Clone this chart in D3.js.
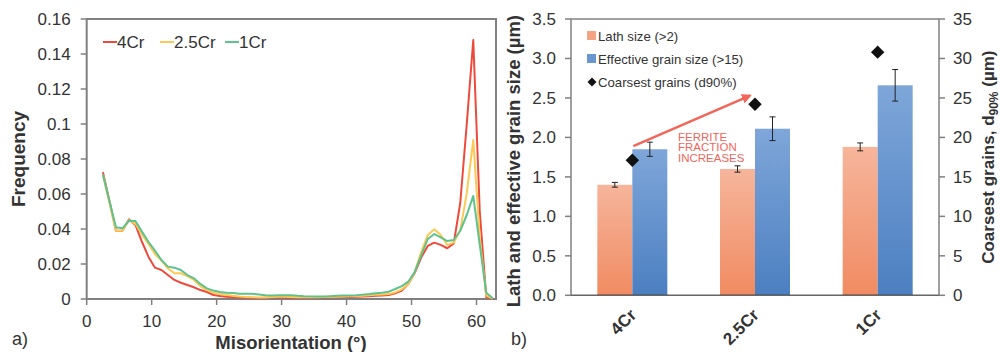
<!DOCTYPE html>
<html>
<head>
<meta charset="utf-8">
<script src="https://cdn.jsdelivr.net/npm/d3@7"></script>
<style>
  body { margin: 0; background: #fff; }
  svg { display: block; font-family: "Liberation Sans", Arial, sans-serif; }
</style>
</head>
<body>
<svg id="chart" width="1000" height="352"></svg>
<script>
// ---- data: panel a) misorientation distribution ----
const angles = [2.5, 3.5, 4.5, 5.5, 6.5, 7.5, 8.5, 9.5, 10.5, 11.5, 12.5, 13.5, 14.5, 15.5, 16.5, 17.5, 18.5, 19.5, 20.5, 21.5,
  22.5, 23.5, 24.5, 25.5, 26.5, 27.5, 28.5, 29.5, 30.5, 31.5, 32.5, 33.5, 34.5, 35.5, 36.5, 37.5, 38.5, 39.5, 40.5, 41.5,
  42.5, 43.5, 44.5, 45.5, 46.5, 47.5, 48.5, 49.5, 50.5, 51.5, 52.5, 53.5, 54.5, 55.5, 56.5, 57.5, 58.5, 59.5, 60.5, 61.5, 62.5];

const freq4Cr = [0.0725, 0.056, 0.039, 0.039, 0.0455, 0.0423, 0.0327, 0.0242, 0.0179, 0.0166, 0.0137, 0.0109, 0.0093, 0.008, 0.0067, 0.0051, 0.004, 0.0023, 0.0017, 0.0013,
  0.001, 0.0008, 0.0007, 0.0006, 0.0006, 0.0007, 0.0008, 0.0008, 0.0008, 0.0007, 0.0007, 0.0007, 0.0008, 0.0009, 0.0009, 0.0009, 0.001, 0.0011, 0.0012, 0.0013,
  0.0014, 0.0016, 0.0018, 0.002, 0.0023, 0.0032, 0.0048, 0.0086, 0.015, 0.0238, 0.0303, 0.0322, 0.0309, 0.029, 0.0318, 0.055, 0.1, 0.148, 0.05, 0.001, 0.0003];

const freq25Cr = [0.071, 0.055, 0.039, 0.039, 0.045, 0.043, 0.037, 0.0314, 0.0257, 0.0219, 0.0175, 0.0147, 0.0147, 0.0131, 0.0109, 0.0074, 0.0051, 0.0036, 0.0028, 0.0023,
  0.0018, 0.0014, 0.0012, 0.001, 0.0009, 0.0009, 0.0011, 0.0013, 0.0013, 0.0012, 0.001, 0.001, 0.001, 0.001, 0.0011, 0.0012, 0.0013, 0.0014, 0.0016, 0.0017,
  0.0019, 0.0021, 0.0024, 0.0026, 0.0029, 0.0038, 0.0055, 0.0086, 0.0156, 0.027, 0.0366, 0.0398, 0.0366, 0.0309, 0.0322, 0.0394, 0.0604, 0.0909, 0.035, 0.002, 0.0003];

const freq1Cr = [0.071, 0.056, 0.041, 0.0404, 0.0447, 0.0446, 0.0385, 0.0327, 0.0276, 0.0223, 0.0185, 0.0179, 0.0166, 0.0137, 0.0118, 0.0086, 0.0061, 0.0048, 0.004, 0.0036,
  0.0034, 0.003, 0.003, 0.003, 0.0026, 0.0022, 0.002, 0.0022, 0.0022, 0.0021, 0.0018, 0.0016, 0.0015, 0.0014, 0.0014, 0.0016, 0.0018, 0.002, 0.002, 0.0022,
  0.0025, 0.0028, 0.0033, 0.0036, 0.0042, 0.0057, 0.0074, 0.0099, 0.0156, 0.0251, 0.0343, 0.0371, 0.0352, 0.0331, 0.0337, 0.039, 0.048, 0.0589, 0.031, 0.0036, 0.0004];

const freqTicksY = [0, 0.02, 0.04, 0.06, 0.08, 0.1, 0.12, 0.14, 0.16];
const angleTicks = [0, 10, 20, 30, 40, 50, 60];

// ---- data: panel b) grain sizes ----
const steels = ["4Cr", "2.5Cr", "1Cr"];
const lathSize = [1.40, 1.60, 1.88];
const lathErr = [0.03, 0.04, 0.05];
const effSize = [1.85, 2.11, 2.66];
const effErr = [0.09, 0.15, 0.20];
const coarsest = [17.1, 24.2, 30.8];
const sizeTicks = [0, 0.5, 1.0, 1.5, 2.0, 2.5, 3.0, 3.5];
const coarseTicks = [0, 5, 10, 15, 20, 25, 30, 35];

const svg = d3.select("#chart");
const axisGrey = "#808080";
const textCol = "#333";

// ================= panel a =================
const xA = d3.scaleLinear().domain([0, 63]).range([86.7, 496]);
const yA = d3.scaleLinear().domain([0, 0.16]).range([299, 19]);

const gA = svg.append("g");

// frame
gA.append("rect")
  .attr("x", xA(0)).attr("y", yA(0.16))
  .attr("width", xA(63) - xA(0)).attr("height", yA(0) - yA(0.16))
  .attr("fill", "none").attr("stroke", axisGrey).attr("stroke-width", 2);

// y ticks
gA.selectAll(".ytick").data(freqTicksY).join("line")
  .attr("x1", xA(0) - 6).attr("x2", xA(0))
  .attr("y1", d => yA(d)).attr("y2", d => yA(d))
  .attr("stroke", axisGrey).attr("stroke-width", 1.5);
gA.selectAll(".ylab").data(freqTicksY).join("text")
  .attr("x", xA(0) - 16).attr("y", d => yA(d)).attr("dy", "0.35em")
  .attr("text-anchor", "end").attr("font-size", 17).attr("fill", textCol)
  .text(d => String(+d.toFixed(2)));

// x ticks
gA.selectAll(".xtick").data(angleTicks).join("line")
  .attr("x1", d => xA(d)).attr("x2", d => xA(d))
  .attr("y1", yA(0)).attr("y2", yA(0) + 6)
  .attr("stroke", axisGrey).attr("stroke-width", 1.5);
gA.selectAll(".xlab").data(angleTicks).join("text")
  .attr("x", d => xA(d)).attr("y", 327)
  .attr("text-anchor", "middle").attr("font-size", 17).attr("fill", textCol)
  .text(d => d);

const seriesA = [
  { name: "4Cr", values: freq4Cr, color: "#ee4a3c" },
  { name: "2.5Cr", values: freq25Cr, color: "#fdc956" },
  { name: "1Cr", values: freq1Cr, color: "#5ec28d" }
];

const line = d3.line().x((d, i) => xA(angles[i])).y(d => yA(d));
gA.selectAll(".series").data(seriesA).join("path")
  .attr("d", d => line(d.values))
  .attr("fill", "none").attr("stroke", d => d.color).attr("stroke-width", 2)
  .attr("stroke-linejoin", "round");

// legend
const legX = [103, 160, 225];
const leg = gA.selectAll(".leg").data(seriesA).join("g")
  .attr("transform", (d, i) => `translate(${legX[i]},42)`);
leg.append("line").attr("x1", 0).attr("x2", 14).attr("y1", 0).attr("y2", 0)
  .attr("stroke", d => d.color).attr("stroke-width", 2);
leg.append("text").attr("x", 14).attr("y", 0).attr("dy", "0.35em")
  .attr("font-size", 17).attr("fill", textCol).text(d => d.name);

gA.append("text").attr("transform", `translate(25,${(yA(0) + yA(0.16)) / 2}) rotate(-90)`)
  .attr("text-anchor", "middle").attr("font-size", 19).attr("font-weight", "bold").attr("fill", textCol)
  .text("Frequency");
gA.append("text").attr("x", 291).attr("y", 349)
  .attr("text-anchor", "middle").attr("font-size", 18.5).attr("font-weight", "bold").attr("fill", textCol)
  .text("Misorientation (°)");
gA.append("text").attr("x", 12).attr("y", 345).attr("font-size", 18).attr("fill", textCol).text("a)");

// ================= panel b =================
const xB = d3.scaleBand().domain(steels).range([571, 939]);
const sub = d3.scaleBand().domain(["lath", "eff"]).range([xB.bandwidth() / 2 - 35, xB.bandwidth() / 2 + 35]);
const yB = d3.scaleLinear().domain([0, 3.5]).range([295.3, 19]);
const yB2 = d3.scaleLinear().domain([0, 35]).range([295.3, 19]);

const gB = svg.append("g");
const defs = svg.append("defs");
const gradOr = defs.append("linearGradient").attr("id", "gOr").attr("x1", 0).attr("x2", 0).attr("y1", 0).attr("y2", 1);
gradOr.append("stop").attr("offset", "0%").attr("stop-color", "#f6b59b");
gradOr.append("stop").attr("offset", "100%").attr("stop-color", "#f08b62");
const gradBl = defs.append("linearGradient").attr("id", "gBl").attr("x1", 0).attr("x2", 0).attr("y1", 0).attr("y2", 1);
gradBl.append("stop").attr("offset", "0%").attr("stop-color", "#7ea6d9");
gradBl.append("stop").attr("offset", "100%").attr("stop-color", "#4c7fc1");

// frame lines: top, left, right
gB.append("line").attr("x1", 571).attr("x2", 939).attr("y1", yB(3.5)).attr("y2", yB(3.5))
  .attr("stroke", axisGrey).attr("stroke-width", 1.5);
gB.append("line").attr("x1", 571).attr("x2", 571).attr("y1", yB(3.5)).attr("y2", yB(0))
  .attr("stroke", axisGrey).attr("stroke-width", 1.5);
gB.append("line").attr("x1", 939).attr("x2", 939).attr("y1", yB(3.5)).attr("y2", yB(0))
  .attr("stroke", axisGrey).attr("stroke-width", 1.5);

// left axis ticks
gB.selectAll(".lt").data(sizeTicks).join("line")
  .attr("x1", 565).attr("x2", 571).attr("y1", d => yB(d)).attr("y2", d => yB(d))
  .attr("stroke", axisGrey).attr("stroke-width", 1.5);
gB.selectAll(".ll").data(sizeTicks).join("text")
  .attr("x", 556).attr("y", d => yB(d)).attr("dy", "0.35em")
  .attr("text-anchor", "end").attr("font-size", 17).attr("fill", textCol)
  .text(d3.format(".1f"));
// right axis ticks
gB.selectAll(".rt").data(coarseTicks).join("line")
  .attr("x1", 939).attr("x2", 945).attr("y1", d => yB2(d)).attr("y2", d => yB2(d))
  .attr("stroke", axisGrey).attr("stroke-width", 1.5);
gB.selectAll(".rl").data(coarseTicks).join("text")
  .attr("x", 953).attr("y", d => yB2(d)).attr("dy", "0.35em")
  .attr("text-anchor", "start").attr("font-size", 17).attr("fill", textCol)
  .text(d => d);

// bars
const groups = gB.selectAll(".grp").data(steels).join("g")
  .attr("transform", d => `translate(${xB(d)},0)`);
groups.append("rect")
  .attr("x", sub("lath")).attr("width", sub.bandwidth())
  .attr("y", (d, i) => yB(lathSize[i])).attr("height", (d, i) => yB(0) - yB(lathSize[i]))
  .attr("fill", "url(#gOr)");
groups.append("rect")
  .attr("x", sub("eff")).attr("width", sub.bandwidth())
  .attr("y", (d, i) => yB(effSize[i])).attr("height", (d, i) => yB(0) - yB(effSize[i]))
  .attr("fill", "url(#gBl)");
groups.append("line")
  .attr("x1", sub("lath")).attr("x2", sub("lath") + sub.bandwidth())
  .attr("y1", yB(0) - 0.5).attr("y2", yB(0) - 0.5).attr("stroke", "#e0602e").attr("stroke-width", 1.5);
groups.append("line")
  .attr("x1", sub("eff")).attr("x2", sub("eff") + sub.bandwidth())
  .attr("y1", yB(0) - 0.5).attr("y2", yB(0) - 0.5).attr("stroke", "#2f64a8").attr("stroke-width", 1.5);

// error bars
function errBar(key, vals, errs) {
  const cx = sub(key) + sub.bandwidth() / 2;
  const eb = groups.append("g").attr("stroke", "#222").attr("stroke-width", 1);
  eb.append("line").attr("x1", cx).attr("x2", cx)
    .attr("y1", (d, i) => yB(vals[i] + errs[i])).attr("y2", (d, i) => yB(vals[i] - errs[i]));
  eb.append("line").attr("x1", cx - 3).attr("x2", cx + 3)
    .attr("y1", (d, i) => yB(vals[i] + errs[i])).attr("y2", (d, i) => yB(vals[i] + errs[i]));
  eb.append("line").attr("x1", cx - 3).attr("x2", cx + 3)
    .attr("y1", (d, i) => yB(vals[i] - errs[i])).attr("y2", (d, i) => yB(vals[i] - errs[i]));
}
errBar("lath", lathSize, lathErr);
errBar("eff", effSize, effErr);

// bottom axis line
gB.append("line").attr("x1", 571).attr("x2", 939).attr("y1", yB(0)).attr("y2", yB(0))
  .attr("stroke", "#666").attr("stroke-width", 1.5);

// coarsest grains diamonds (square turned 45°)
const diamond = d3.symbol().type(d3.symbolSquare).size(90);
groups.append("path")
  .attr("d", diamond)
  .attr("transform", (d, i) => `translate(${xB.bandwidth() / 2},${yB2(coarsest[i])}) rotate(45)`)
  .attr("fill", "#111");

// x labels
gB.selectAll(".xl").data(steels).join("text")
  .attr("transform", d => `translate(${xB(d) + xB.bandwidth() / 2 + 5},316) rotate(-45)`)
  .attr("text-anchor", "end").attr("font-size", 17).attr("font-weight", "bold").attr("fill", textCol)
  .text(d => d);

// arrow annotation
defs.append("marker").attr("id", "arr").attr("viewBox", "0 0 10 10").attr("refX", 8).attr("refY", 5)
  .attr("markerWidth", 4).attr("markerHeight", 4).attr("orient", "auto")
  .append("path").attr("d", "M0,0 L10,5 L0,10 z").attr("fill", "#f2665a");
gB.append("line")
  .attr("x1", xB("4Cr") + xB.bandwidth() / 2 + 1).attr("y1", yB(1.89))
  .attr("x2", xB("2.5Cr") + xB.bandwidth() / 2 - 5).attr("y2", yB(2.53))
  .attr("stroke", "#f2665a").attr("stroke-width", 2.5).attr("marker-end", "url(#arr)");
const note = gB.append("text").attr("x", 678).attr("y", 141)
  .attr("font-size", 11.5).attr("fill", "#f2665a");
["FERRITE", "FRACTION", "INCREASES"].forEach((t, i) => {
  note.append("tspan").attr("x", 678).attr("dy", i === 0 ? 0 : 10.3).text(t);
});

// legend
const legB = [
  { label: "Lath size (>2)", type: "sq", color: "#f4a482" },
  { label: "Effective grain size (>15)", type: "sq", color: "#6a96d0" },
  { label: "Coarsest grains (d90%)", type: "dia", color: "#111" }
];
const lg = gB.selectAll(".lg").data(legB).join("g")
  .attr("transform", (d, i) => `translate(592,${36 + i * 23})`);
lg.filter(d => d.type === "sq").append("rect")
  .attr("x", -5).attr("y", -5).attr("width", 9).attr("height", 9).attr("fill", d => d.color);
lg.filter(d => d.type === "dia").append("path")
  .attr("d", d3.symbol().type(d3.symbolSquare).size(40)).attr("transform", "rotate(45)")
  .attr("fill", d => d.color);
lg.append("text").attr("x", 6).attr("y", 0).attr("dy", "0.35em")
  .attr("font-size", 13.2).attr("fill", textCol).text(d => d.label);

// axis titles
gB.append("text").attr("transform", `translate(520,${(yB(0) + yB(3.5)) / 2 + 4}) rotate(-90)`)
  .attr("text-anchor", "middle").attr("font-size", 18.5).attr("font-weight", "bold").attr("fill", textCol)
  .text("Lath and effective grain size (µm)");
const rt = gB.append("text").attr("transform", `translate(994,${(yB(0) + yB(3.5)) / 2}) rotate(-90)`)
  .attr("text-anchor", "middle").attr("font-size", 17).attr("font-weight", "bold").attr("fill", textCol);
rt.append("tspan").text("Coarsest grains, d");
rt.append("tspan").attr("font-size", 12).attr("dy", 4).text("90%");
rt.append("tspan").attr("dy", -4).text(" (µm)");

gB.append("text").attr("x", 511).attr("y", 345).attr("font-size", 18).attr("fill", textCol).text("b)");
</script>
</body>
</html>
